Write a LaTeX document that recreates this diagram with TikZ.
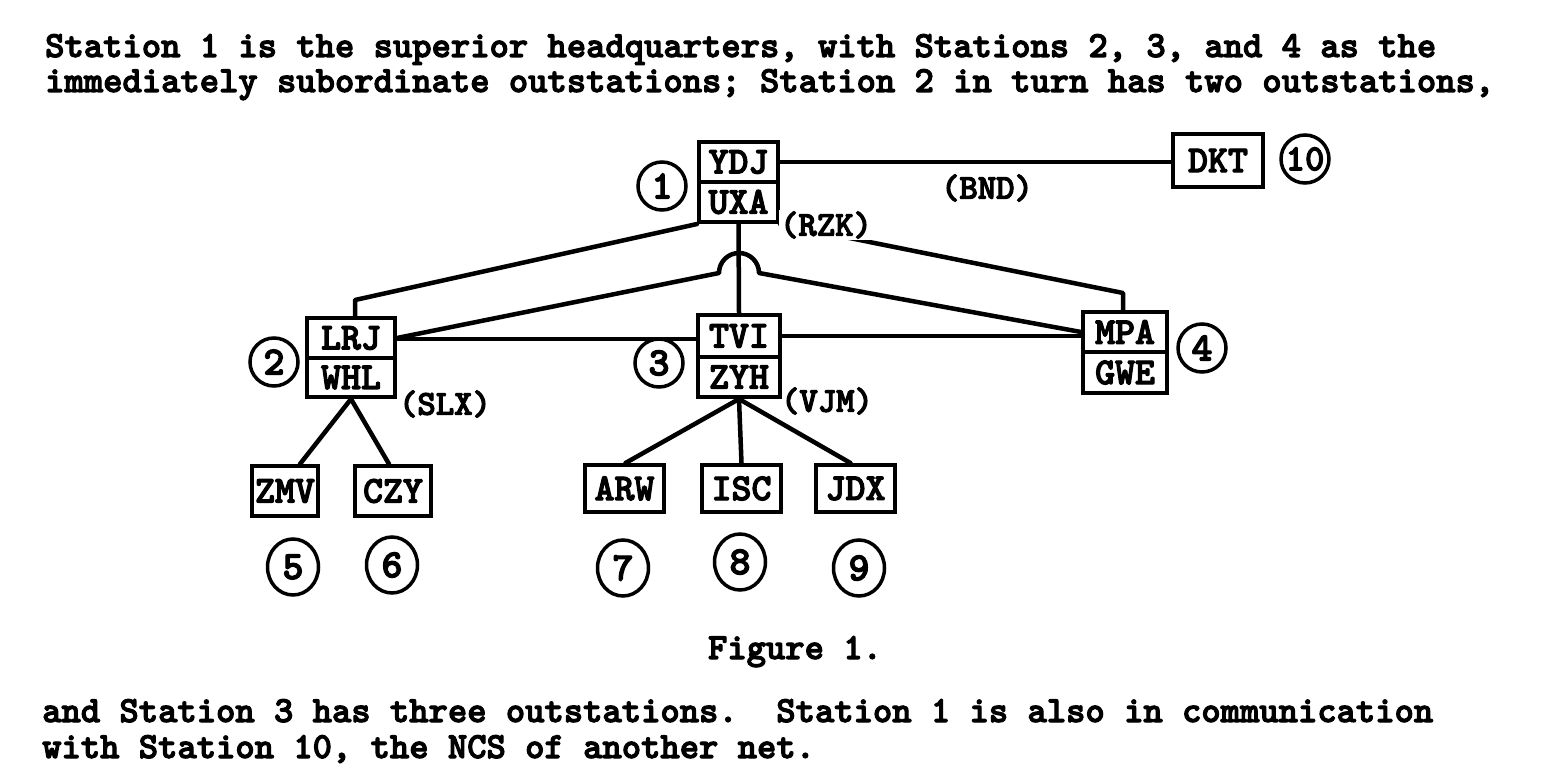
\documentclass[tikz,border=0pt]{standalone}
\usepackage{fontspec}
\newfontfamily\tw{lmmonolt10-bold.otf}[FakeBold=3]
\usetikzlibrary{shapes.geometric,calc}
\begin{document}
\begin{tikzpicture}[x=1pt,y=-1pt,
  box/.style={draw, line width=4pt, inner sep=0pt, font=\tw\fontsize{38}{38}\selectfont},
  num/.style={draw, circle, line width=3.5pt, minimum size=48pt, inner sep=0pt, font=\tw\fontsize{40}{40}\selectfont},
  onum/.style={draw, ellipse, line width=3.5pt, minimum width=51pt, minimum height=56pt, inner sep=0pt, font=\tw\fontsize{40}{40}\selectfont},
  lbl/.style={font=\tw\fontsize{35}{35}\selectfont, inner sep=1pt},
  body/.style={font=\tw\fontsize{36.8}{40}\selectfont\frenchspacing, inner sep=0pt, anchor=base west, text height=23pt, text depth=3pt},
  wire/.style={line width=4.5pt, line join=round, line cap=round}
]
\fill[white] (0,0) rectangle (1548,784);
\useasboundingbox (0,0) rectangle (1548,784);

% text
\node[body] (t1) at (45,57) {Station 1 is the superior headquarters, with Stations 2, 3, and 4 as the};
\node[body] (t2) at (45,92) {immediately subordinate outstations; Station 2 in turn has two outstations,};
\node[body, anchor=base] (cap) at (795,659) {Figure 1.};
\node[body] (t3) at (42,722) {and Station 3 has three outstations.~\ Station 1 is also in communication};
\node[body] (t4) at (42,758) {with Station 10, the NCS of another net.};

% station boxes
\node[box, minimum width=79pt, minimum height=40pt] (s1t) at (738.5,162) {YDJ};
\node[box, minimum width=79pt, minimum height=40pt] (s1b) at (738.5,202) {UXA};
\node[box, minimum width=88pt, minimum height=40pt] (s2t) at (351,338) {LRJ};
\node[box, minimum width=88pt, minimum height=39pt] (s2b) at (351,377.5) {WHL};
\node[box, minimum width=82pt, minimum height=42pt] (s3t) at (739,336) {TVI};
\node[box, minimum width=82pt, minimum height=40pt] (s3b) at (739,377) {ZYH};
\node[box, minimum width=84pt, minimum height=40pt] (s4t) at (1125,332) {MPA};
\node[box, minimum width=84pt, minimum height=41pt] (s4b) at (1125,372.5) {GWE};
\node[box, minimum width=90pt, minimum height=53pt] (dkt) at (1218,160.5) {DKT};
\node[box, minimum width=66pt, minimum height=50pt] (zmv) at (285,491) {ZMV};
\node[box, minimum width=76pt, minimum height=50pt] (czy) at (393,491) {CZY};
\node[box, minimum width=79pt, minimum height=47pt] (arw) at (624.5,488.5) {ARW};
\node[box, minimum width=79pt, minimum height=47pt] (isc) at (741.5,488.5) {ISC};
\node[box, minimum width=79pt, minimum height=47pt] (jdx) at (855.5,488.5) {JDX};

% station numbers
\node[num] (c1) at (662,186) {1};
\node[num] (c2) at (274,362) {2};
\node[num] (c3) at (659,363) {3};
\node[num] (c4) at (1202,348) {4};
\node[num, font=\tw\fontsize{37}{37}\selectfont] (c10) at (1305,159) {10};
\node[onum] (c5) at (293,567) {5};
\node[onum] (c6) at (392,565) {6};
\node[onum] (c7) at (623,568) {7};
\node[onum] (c8) at (740,562) {8};
\node[onum] (c9) at (859,568) {9};

% connectors
\coordinate (hopL) at (719,273);
\coordinate (hopR) at (759,273);
\draw[wire] (s1t.east) -- (s1t.east -| dkt.west);
\draw[wire] (s1b.south west) -- ([xshift=4pt,yshift=16pt]s2t.north) -- ([xshift=4pt]s2t.north);
\draw[wire] (s1b.south) -- (s3t.north);
\draw[wire] (s1b.south east) -- ([xshift=-2pt,yshift=17pt]s4t.north) -- ([xshift=-2pt]s4t.north);
\draw[wire] ([yshift=-1pt]s2t.east) -- ([yshift=-1pt]s2t.east -| s3t.west);
\draw[wire] (s3t.east) -- (s3t.east -| s4t.west);
\draw[wire] (s2t.east) -- (hopL) arc[start angle=180, end angle=0, radius=20pt] -- (s4t.west);
\draw[wire] (s2b.south) -- ([xshift=15pt]zmv.north);
\draw[wire] (s2b.south) -- ([xshift=-4pt]czy.north);
\draw[wire] (s3b.south) -- ([xshift=1pt]arw.north);
\draw[wire] (s3b.south) -- (isc.north);
\draw[wire] (s3b.south) -- ([xshift=-5pt]jdx.north);

% link labels
\node[lbl] (bnd) at (987,188) {(BND)};
\node[lbl, fill=white] (rzk) at (826,225) {(RZK)};
\node[lbl] (slx) at (445,404) {(SLX)};
\node[lbl] (vjm) at (827,401) {(VJM)};
\end{tikzpicture}
\end{document}
